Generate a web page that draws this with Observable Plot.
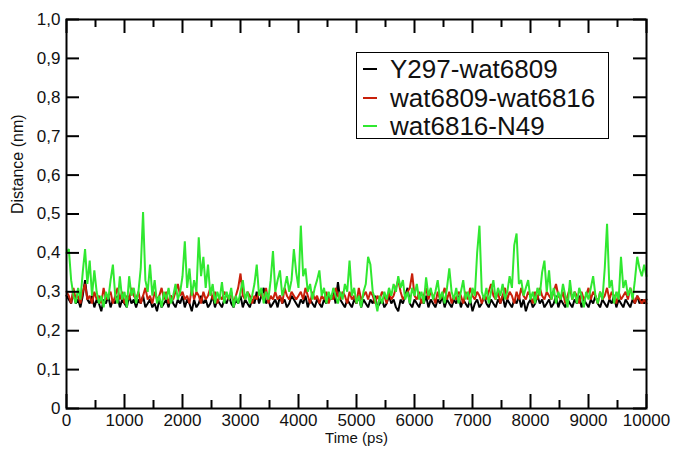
<!DOCTYPE html>
<html><head><meta charset="utf-8">
<script src="https://cdn.jsdelivr.net/npm/d3@7"></script>
<script src="https://cdn.jsdelivr.net/npm/@observablehq/plot@0.6"></script>
<style>
body{margin:0;background:#fff;font-family:"Liberation Sans",Arial,sans-serif;}
#wrap{position:relative;width:673px;height:450px;}
#legend{position:absolute;left:356px;top:52px;width:251px;height:83px;border:1px solid #000;background:#fff;padding-top:2px;}
.row{display:flex;align-items:center;height:28.5px;font-size:26px;color:#111;white-space:nowrap;line-height:1}
.sw{width:14px;height:2px;margin-left:6px;margin-right:13px;flex:none}
</style></head>
<body><div id="wrap"><div id="legend"></div></div>
<script>
// Sampling grid (ps)
const time = d3.range(0, 10001, 40);

const seriesNames = ["Y297-wat6809", "wat6809-wat6816", "wat6816-N49"];
const seriesColors = ["#000000", "#c8200a", "#30e830"];

const black = [
.29,.28,.27,.30,.27,.28,.26,.29,.33,.28,
.27,.29,.26,.28,.27,.25,.28,.27,.29,.26,
.28,.27,.29,.26,.28,.27,.26,.29,.27,.28,
.26,.28,.27,.29,.26,.27,.28,.26,.27,.25,
.28,.26,.27,.28,.26,.29,.27,.26,.28,.27,
.29,.26,.28,.27,.25,.28,.26,.27,.29,.27,
.28,.26,.27,.29,.26,.28,.27,.26,.28,.27,
.29,.27,.26,.28,.27,.29,.26,.28,.27,.26,
.28,.27,.30,.27,.29,.31,.27,.28,.26,.27,
.28,.26,.29,.27,.28,.26,.27,.29,.28,.27,
.26,.28,.27,.29,.26,.28,.27,.26,.28,.27,
.26,.28,.27,.29,.28,.30,.27,.325,.28,.27,
.26,.28,.27,.26,.28,.27,.29,.26,.28,.27,
.26,.28,.27,.29,.26,.27,.28,.26,.27,.29,
.27,.28,.26,.25,.28,.27,.29,.31,.27,.26,
.28,.27,.26,.28,.27,.29,.26,.28,.27,.26,
.28,.27,.29,.26,.28,.27,.26,.28,.27,.29,
.26,.28,.27,.26,.28,.25,.27,.28,.26,.27,
.29,.27,.26,.28,.27,.26,.28,.27,.29,.26,
.28,.27,.26,.28,.27,.29,.26,.28,.25,.27,
.28,.26,.27,.29,.27,.28,.26,.27,.28,.26,
.27,.29,.26,.28,.27,.26,.28,.27,.26,.28,
.27,.29,.26,.28,.27,.26,.28,.27,.29,.27,
.26,.28,.27,.26,.28,.27,.29,.26,.28,.27,
.26,.28,.27,.26,.28,.27,.29,.27,.28,.27,
.28];

const red = [
.30,.29,.27,.31,.28,.29,.27,.30,.32,.28,
.29,.27,.30,.28,.29,.27,.31,.28,.29,.30,
.27,.29,.31,.28,.30,.27,.29,.28,.31,.29,
.28,.30,.27,.29,.31,.28,.29,.27,.30,.28,
.29,.31,.28,.30,.27,.29,.28,.30,.32,.29,
.30,.28,.29,.27,.31,.28,.30,.29,.27,.30,
.28,.29,.31,.28,.30,.27,.29,.28,.30,.29,
.28,.30,.27,.29,.31,.347,.29,.28,.30,.29,
.27,.29,.28,.30,.29,.28,.31,.27,.29,.28,
.30,.28,.29,.27,.31,.29,.28,.30,.29,.28,
.29,.30,.28,.31,.29,.27,.30,.28,.29,.27,
.29,.28,.30,.27,.29,.28,.31,.29,.28,.30,
.29,.27,.30,.28,.29,.27,.31,.28,.29,.30,
.28,.30,.29,.27,.29,.28,.30,.29,.27,.30,
.28,.29,.31,.33,.30,.28,.29,.30,.31,.347,
.29,.28,.30,.27,.29,.31,.28,.30,.29,.27,
.30,.28,.29,.31,.28,.30,.27,.29,.28,.30,
.29,.27,.30,.28,.31,.29,.28,.30,.29,.27,
.29,.28,.30,.32,.29,.28,.30,.27,.29,.31,
.28,.30,.29,.27,.30,.28,.31,.29,.28,.30,
.29,.27,.30,.28,.31,.29,.28,.30,.29,.28,
.30,.32,.29,.28,.30,.27,.29,.31,.28,.30,
.29,.27,.30,.28,.29,.31,.28,.30,.29,.27,
.30,.28,.29,.31,.28,.30,.29,.27,.30,.28,
.29,.30,.28,.31,.29,.27,.29,.28,.27,.28,
.27];

const green = [
.40,.41,.33,.29,.27,.31,.28,.35,.41,.32,
.38,.29,.355,.30,.27,.29,.26,.30,.28,.33,
.37,.29,.27,.34,.28,.30,.26,.34,.29,.31,
.27,.30,.36,.505,.33,.30,.37,.29,.33,.27,
.29,.26,.30,.28,.31,.27,.29,.32,.28,.30,
.34,.43,.31,.36,.29,.33,.30,.44,.34,.39,
.31,.37,.29,.32,.27,.30,.28,.325,.27,.30,
.28,.31,.26,.29,.27,.30,.33,.28,.30,.27,
.29,.32,.37,.29,.31,.27,.30,.28,.33,.405,
.30,.33,.355,.29,.31,.34,.30,.33,.41,.35,
.31,.47,.34,.36,.30,.32,.28,.31,.33,.355,
.29,.31,.27,.30,.28,.31,.29,.27,.30,.28,
.32,.30,.38,.29,.31,.27,.29,.26,.30,.32,
.39,.37,.30,.28,.25,.29,.27,.30,.28,.31,
.29,.32,.30,.34,.31,.33,.28,.30,.27,.31,
.29,.32,.28,.30,.27,.337,.29,.31,.28,.30,
.33,.28,.30,.27,.31,.36,.30,.28,.31,.27,
.30,.33,.28,.30,.27,.31,.29,.40,.47,.30,
.28,.31,.27,.30,.33,.28,.31,.29,.32,.28,
.30,.34,.31,.42,.45,.32,.33,.29,.31,.33,
.28,.30,.27,.31,.29,.35,.38,.30,.355,.28,
.31,.27,.30,.28,.32,.29,.26,.33,.28,.30,
.27,.31,.29,.26,.30,.28,.31,.34,.29,.27,
.30,.28,.36,.475,.31,.33,.27,.30,.28,.39,
.31,.33,.29,.31,.28,.33,.39,.36,.34,.37,
.34];

const xTicks = [0,1000,2000,3000,4000,5000,6000,7000,8000,9000,10000];
const xMinor = [500,1500,2500,3500,4500,5500,6500,7500,8500,9500];
const yTicks = [0,0.1,0.2,0.3,0.4,0.5,0.6,0.7,0.8,0.9,1.0];
const xLabel = "Time (ps)";
const yLabel = "Distance (nm)";

const W = 673, H = 450, mL = 66, mR = 27, mT = 19, mB = 42;
const fw = W - mL - mR, fh = H - mT - mB;

const seriesValues = [black, red, green];
const lineMarks = seriesValues.map((vals, k) =>
  Plot.line(time.map((t, i) => ({t, v: vals[i]})), {x: "t", y: "v", stroke: seriesColors[k], strokeWidth: 2, strokeLinejoin: "miter"})
);

const chart = Plot.plot({
  width: W, height: H,
  marginLeft: mL, marginRight: mR, marginTop: mT, marginBottom: mB,
  style: {fontFamily: "'Liberation Sans', Arial, sans-serif", fontSize: "17px", color: "#111", background: "white"},
  x: {domain: [0, 10000], ticks: xTicks, tickSize: 0, tickPadding: 5, label: null, tickFormat: d => String(d)},
  y: {domain: [0, 1], ticks: yTicks, tickSize: 0, tickPadding: 6, label: null,
      tickFormat: d => d === 0 ? "0" : d.toFixed(1).replace(".", ",")},
  marks: [
    ...lineMarks,
    Plot.tickX(xTicks, {insetTop: fh - 14, stroke: "#000", strokeWidth: 2}),
    Plot.tickX(xTicks, {insetBottom: fh - 14, stroke: "#000", strokeWidth: 2}),
    Plot.tickX(xMinor, {insetTop: fh - 8, stroke: "#000", strokeWidth: 2}),
    Plot.tickX(xMinor, {insetBottom: fh - 8, stroke: "#000", strokeWidth: 2}),
    Plot.tickY(yTicks, {insetRight: fw - 13, stroke: "#000", strokeWidth: 2}),
    Plot.tickY(yTicks, {insetLeft: fw - 13, stroke: "#000", strokeWidth: 2}),
    Plot.frame({stroke: "#000", strokeWidth: 2}),
    Plot.text([xLabel], {text: d => d, frameAnchor: "bottom", dy: 34, fontSize: 15, fill: "#111"}),
    Plot.text([yLabel], {text: d => d, frameAnchor: "left", dx: -49, rotate: -90, fontSize: 16, fill: "#111"})
  ]
});

const wrap = document.getElementById("wrap");
wrap.insertBefore(chart, wrap.firstChild);

const legend = document.getElementById("legend");
seriesNames.forEach((name, k) => {
  const row = document.createElement("div");
  row.className = "row";
  const sw = document.createElement("span");
  sw.className = "sw";
  sw.style.background = seriesColors[k];
  const tx = document.createElement("span");
  tx.textContent = name;
  row.appendChild(sw); row.appendChild(tx);
  legend.appendChild(row);
});
</script>
</body></html>
